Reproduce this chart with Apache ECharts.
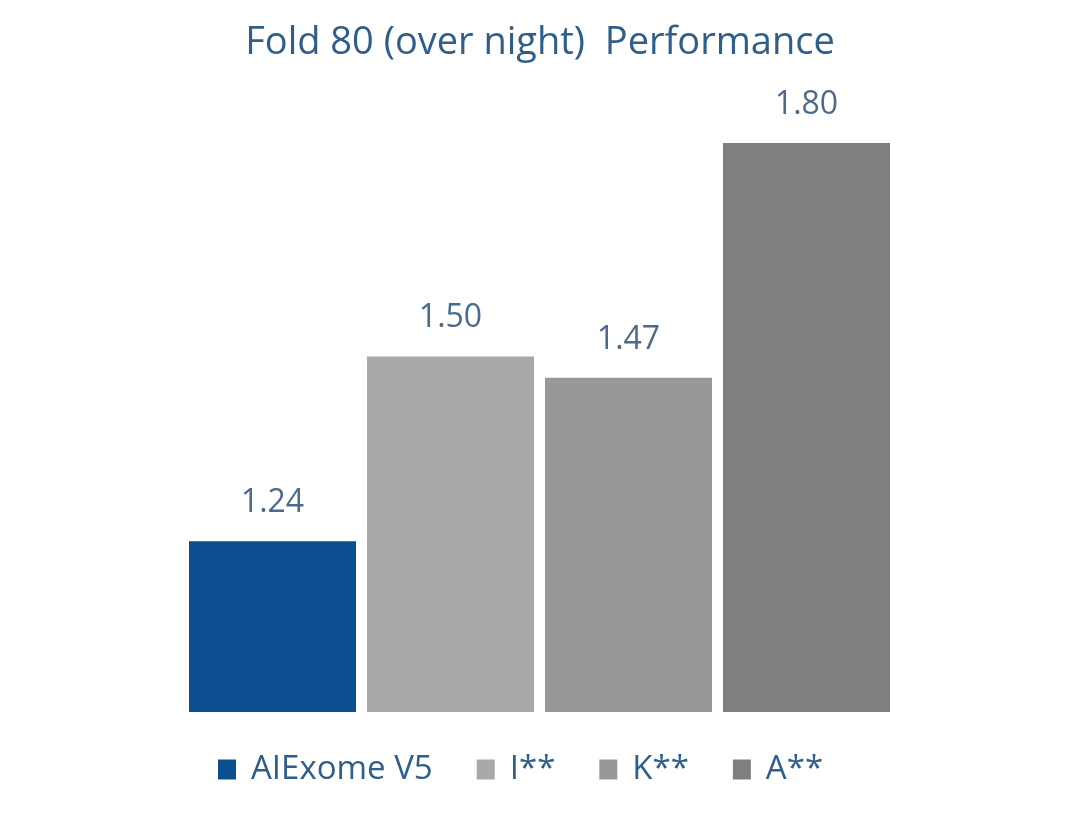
<!DOCTYPE html>
<html>
<head>
<meta charset="utf-8">
<script src="https://cdn.jsdelivr.net/npm/echarts@6/dist/echarts.min.js"></script>
<style>html,body{margin:0;padding:0;background:#fff}#c{width:1080px;height:827px}</style>
</head>
<body>
<div id="c"></div>
<script>
const titleText = 'Fold 80 (over night)  Performance';
const categories = ['AIExome V5', 'I**', 'K**', 'A**'];
const values = [1.24, 1.50, 1.47, 1.80];
const colors = ['#0b4f91', '#a9a9a9', '#989898', '#7f7f7f'];

const chart = echarts.init(document.getElementById('c'));
const FONT = 'Open Sans';
const series = categories.map((name, i) => ({
  name: name,
  type: 'bar',
  barWidth: 167,
  barGap: '-100%',
  itemStyle: { color: colors[i] },
  label: {
    show: true, position: 'top', distance: 22,
    formatter: p => p.value.toFixed(2),
    color: '#4b6b8c', fontFamily: FONT, fontSize: 32
  },
  data: categories.map((c, j) => j === i ? values[i] : '-')
}));

chart.setOption({
  backgroundColor: '#fff',
  animation: false,
  title: {
    text: titleText, left: 'center', top: 19,
    textStyle: { color: '#2f5e8a', fontFamily: FONT, fontSize: 38, fontWeight: 'normal' }
  },
  legend: {
    bottom: 36, left: 213,
    itemWidth: 18, itemHeight: 20, itemGap: 44,
    icon: 'rect',
    textStyle: { color: '#2f5e8a', fontFamily: FONT, fontSize: 33, padding: [0, 0, 0, 10] },
    data: categories
  },
  grid: { left: 183.5, right: 184.5, top: 143, bottom: 115 },
  xAxis: {
    type: 'category', data: categories,
    axisLine: { show: false }, axisTick: { show: false }, axisLabel: { show: false }
  },
  yAxis: {
    type: 'value', min: 1, max: 1.8,
    axisLine: { show: false }, axisTick: { show: false }, axisLabel: { show: false },
    splitLine: { show: false }
  },
  series: series
});
</script>
</body>
</html>
